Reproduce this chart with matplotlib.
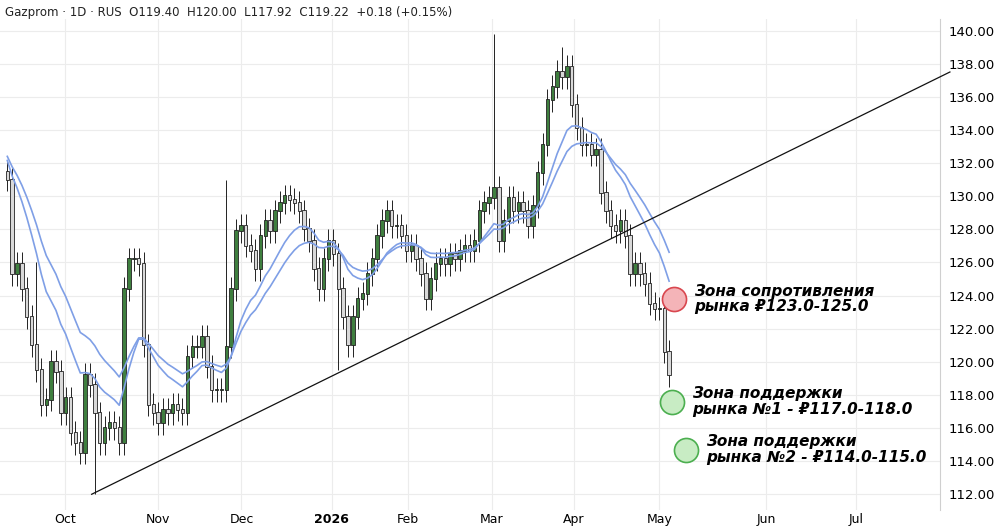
import matplotlib
matplotlib.use("Agg")
import matplotlib.pyplot as plt
import numpy as np
import pandas as pd

closes = [131.0,125.3,125.9,124.4,122.7,121.0,119.5,117.4,117.7,120.0,119.4,116.9,117.8,115.7,115.1,114.5,119.2,118.6,116.9,115.1,116.0,116.3,116.0,115.1,124.4,126.2,126.2,125.9,121.0,117.4,116.9,116.3,117.1,116.9,117.4,117.1,116.9,120.3,120.9,120.9,121.5,119.7,118.3,118.3,118.3,120.9,124.4,127.9,128.2,127.0,126.7,125.6,127.6,128.5,127.9,
          129.1,129.6,130.0,129.8,129.6,129.1,128.0,127.3,125.6,124.4,126.2,127.3,126.5,124.4,122.7,121.0,122.7,123.8,124.1,125.3,126.2,127.6,128.5,129.1,128.2,128.2,127.6,126.7,127.0,126.2,125.3,123.8,125.0,125.9,126.2,125.9,126.5,126.2,126.7,127.0,126.7,127.3,129.1,129.6,129.9,130.5,127.3,128.5,129.9,129.1,129.6,129.1,128.2,129.4,131.4,133.1,135.8,136.6,137.5,137.2,137.8,135.5,134.1,133.1,133.1,132.5,132.8,130.2,129.1,128.2,127.9,128.5,127.6,125.3,125.9,125.3,124.7,123.5,123.2,123.2,120.6,119.2]
wick = 0.7
high_override = {100: 139.8, 114: 139.0, 45: 131.0, 6: 126.0}
low_override = {18: 112.0, 68: 119.5}
tick_labels = ["Oct", "Nov", "Dec", "2026", "Feb", "Mar", "Apr", "May", "Jun", "Jul"]
tick_px = [58, 152, 236, 327, 404, 488, 571, 657, 765, 855]

n = len(closes)
step = 667 / (n - 1)
c = np.array(closes)
o = np.r_[131.5, c[:-1]]
hi = np.maximum(o, c) + wick
lo = np.minimum(o, c) - wick
for k, v in high_override.items(): hi[k] = v
for k, v in low_override.items(): lo[k] = v
x = np.arange(n)

fig = plt.figure(figsize=(10, 5.29), dpi=100)
ax = fig.add_axes([0, 19/529, 0.94, 510/529 - 19/529])
ax.set_xlim(-1.5, 940/step)
ax.set_ylim(111.05, 140.7)
ax.yaxis.tick_right()
ax.set_yticks(np.arange(112, 141, 2))
ax.set_yticklabels([f"{v:.2f}" for v in np.arange(112, 141, 2)], fontsize=9.5)
ax.set_xticks([p/step for p in tick_px])
ax.set_xticklabels(tick_labels, fontsize=9)
ax.get_xticklabels()[3].set_fontweight("bold")
ax.tick_params(axis="x", length=0, pad=2)
ax.tick_params(axis="y", length=0, pad=6)
ax.grid(color="#ececec", lw=0.8)
for s in ["top", "left", "bottom"]:
    ax.spines[s].set_visible(False)
ax.spines["right"].set_color("#cfcfcf")

for i in range(n):
    up = c[i] >= o[i]
    ax.vlines(x[i], lo[i], hi[i], color="#222222", lw=0.7, zorder=2)
    ax.bar(x[i], abs(c[i]-o[i]) + 0.05, bottom=min(o[i], c[i]), width=0.7,
           color="#3f7f3f" if up else "#d9d9d9", edgecolor="#222222", lw=0.6, zorder=3)

s = pd.Series(np.r_[[132]*20, c])
e1 = s.ewm(span=13, adjust=False).mean().values[20:]
e2 = s.ewm(span=20, adjust=False).mean().values[20:]
ax.plot(x, e1 + 0.3, color="#7f9fe6", lw=1.2, zorder=4)
ax.plot(x, e2 + 0.5, color="#7f9fe6", lw=1.2, zorder=4)

ax.plot([85/step, 950/step], [112.0, 137.5], color="#111111", lw=0.9, zorder=5, clip_on=False)

fig.text(0.005, 0.977, "Gazprom · 1D · RUS  O119.40  H120.00  L117.92  C119.22  +0.18 (+0.15%)",
         fontsize=8.5, color="#222222", va="center")

zones = [(672, 123.8, "#f4b4b8", "#d9474f", "Зона сопротивления\nрынка ₽123.0-125.0"),
         (670, 117.6, "#c8ecc4", "#4caf50", "Зона поддержки\nрынка №1 - ₽117.0-118.0"),
         (684, 114.7, "#c8ecc4", "#4caf50", "Зона поддержки\nрынка №2 - ₽114.0-115.0")]
for px, py, fc, ec, txt in zones:
    ax.scatter([px/step], [py], s=300, facecolor=fc, edgecolor=ec, lw=1.2, zorder=6)
    ax.text(px/step + 20/step, py, txt, fontsize=11, fontweight="bold", style="italic",
            va="center", ha="left", linespacing=1.05, zorder=7)

fig.savefig("out.png", dpi=100)
